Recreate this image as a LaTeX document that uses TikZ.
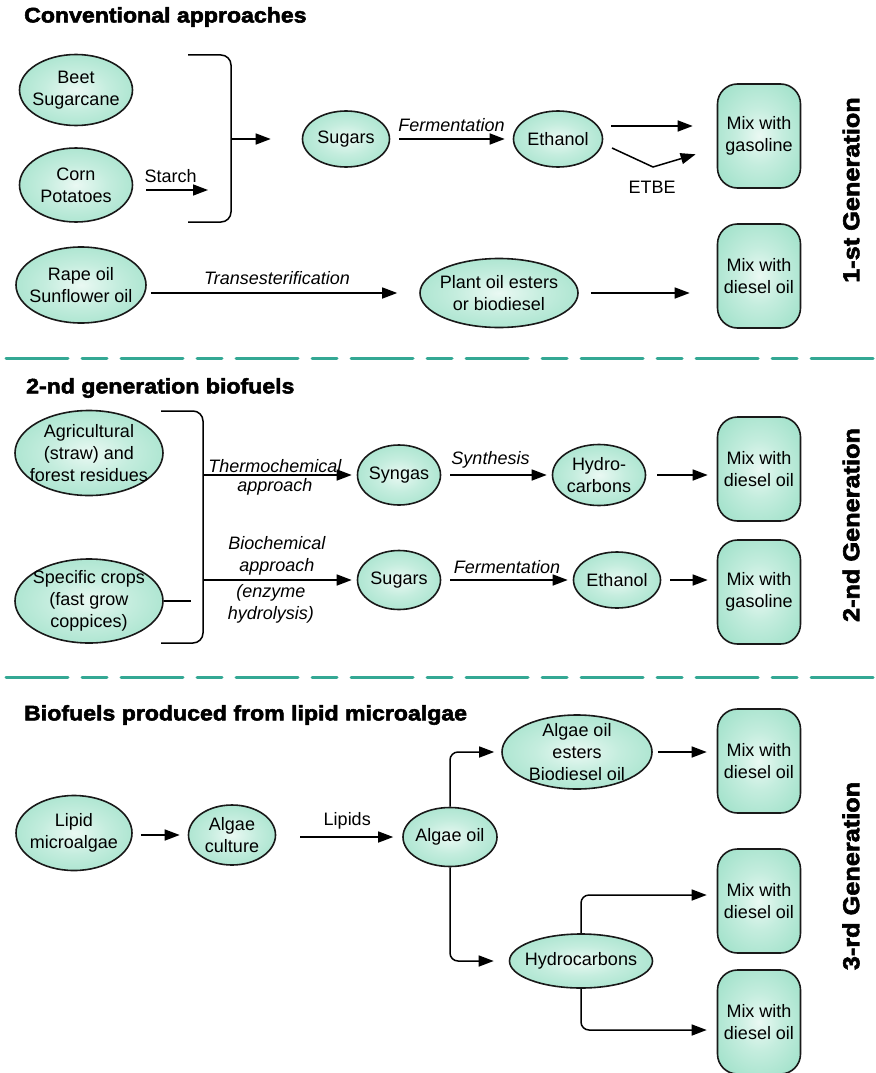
\documentclass[tikz,border=0pt]{standalone}
\usepackage{fontspec}
\setmainfont{Liberation Sans}
\newfontfamily\heavyfont[FakeBold=2.6, FakeStretch=1.1]{Liberation Sans Bold}
\usepackage{xcolor}
\usetikzlibrary{arrows.meta}
\usetikzlibrary{shapes.geometric}

\definecolor{mint}{RGB}{150,222,196}
\definecolor{mintlight}{RGB}{234,249,243}
\definecolor{edge}{RGB}{25,25,25}
\definecolor{rule}{RGB}{52,168,148}
\pgfdeclareradialshading{mintglow}{\pgfpoint{0bp}{0bp}}{color(0bp)=(mintlight); color(14bp)=(mintlight!55!mint); color(38bp)=(mint); color(50bp)=(mint); color(75bp)=(mint)}

\tikzset{
  txt/.style={font=\fontsize{18}{22}\selectfont, align=center, inner sep=0pt},
  oval/.style={ellipse, draw=edge, line width=1.6pt, shading=mintglow, inner sep=0pt, label={[txt]center:#1}},
  mixbox/.style={rectangle, rounded corners=20pt, draw=edge, line width=1.6pt, shading=mintglow, minimum width=83pt, minimum height=104pt, inner sep=0pt, label={[txt]center:#1}},
  flow/.style={-{Triangle[length=15pt,width=11pt]}, line width=1.5pt},
  via/.style={font=\fontsize{18}{22}\selectfont\itshape, align=center, inner sep=0pt},
  heading/.style={font=\fontsize{21}{25}\heavyfont, anchor=west, inner sep=0pt},
  gen/.style={font=\fontsize{23}{27}\heavyfont, rotate=90, inner sep=0pt},
  split/.style={draw=rule, line width=3pt, line cap=round, dash pattern=on 62pt off 14pt on 25pt off 14pt},
}

\begin{document}
\begin{tikzpicture}[x=1pt,y=-1pt]
\useasboundingbox (0,0) rectangle (875,1073);

% first generation
\node[heading] (head1) at (24,17) {Conventional approaches};
\node[oval={Beet\\Sugarcane}, minimum width=113pt, minimum height=71pt] (beet) at (76,90) {};
\node[oval={Corn\\Potatoes}, minimum width=113pt, minimum height=74pt] (corn) at (76,185) {};
\node[oval={Sugars}, minimum width=87pt, minimum height=56pt] (sugars1) at (346,139) {};
\node[oval={Ethanol}, minimum width=89pt, minimum height=56pt] (ethanol1) at (558,139) {};
\node[mixbox={Mix with\\gasoline}] (mix1) at (759,136) {};
\node[oval={Rape oil\\Sunflower oil}, minimum width=130pt, minimum height=76pt] (rape) at (81,285) {};
\node[oval={Plant oil esters\\or biodiesel}, minimum width=158pt, minimum height=69pt] (esters1) at (499,293) {};
\node[mixbox={Mix with\\diesel oil}] (mix2) at (759,276) {};
\node[gen] (gen1) at (851,190) {1-st Generation};

\coordinate (starch) at (208,190);
\draw[flow, shorten <=13pt] (corn.east |- starch) -- (starch) node[midway, txt, above=7pt] {Starch};
\draw[line width=1.5pt, rounded corners=10pt] (188,55) -- (231,55) -- (231,222) -- (188,222);
\draw[flow, shorten >=31pt] (231,139) -- (sugars1.west);
\draw[flow, shorten <=9pt, shorten >=8pt] (sugars1.east) -- (ethanol1.west) node[midway, via, above=7pt] {Fermentation};
\draw[flow, shorten <=8pt, shorten >=24pt] (ethanol1.east |- 0,126) -- (mix1.west |- 0,126);
\coordinate (etbe) at (653,167);
\draw[flow, shorten >=22pt] (612,148) -- (etbe) -- (mix1.west |- 0,148);
\node[txt] (etbelabel) at (652,187) {ETBE};
\draw[flow, shorten <=4pt, shorten >=22pt] (rape.east |- esters1) -- (esters1.west) node[midway, via, above=8pt, xshift=-6pt] {Transesterification};
\draw[flow, shorten <=12pt, shorten >=27pt] (esters1.east) -- (mix2.west |- esters1);

\draw[split] (6,358) -- (875,358);

% second generation
\node[heading] (head2) at (26,388) {2-nd generation biofuels};
\node[oval={Agricultural\\(straw) and\\forest residues}, minimum width=148pt, minimum height=85pt] (agri) at (89,453) {};
\node[oval={Specific crops\\(fast grow\\coppices)}, minimum width=148pt, minimum height=84pt] (crops) at (89,601) {};
\node[oval={Syngas}, minimum width=83pt, minimum height=60pt] (syngas) at (399,475) {};
\node[oval={Sugars}, minimum width=83pt, minimum height=59pt] (sugars2) at (399,580) {};
\node[oval={Hydro-\\carbons}, minimum width=93pt, minimum height=61pt] (hydro1) at (599,475) {};
\node[oval={Ethanol}, minimum width=87pt, minimum height=56pt] (ethanol2) at (617,580) {};
\node[mixbox={Mix with\\diesel oil}] (mix3) at (759,469) {};
\node[mixbox={Mix with\\gasoline}] (mix4) at (759,592) {};
\node[gen] (gen2) at (851,525) {2-nd Generation};

\draw[line width=1.5pt, rounded corners=10pt] (161,411) -- (203,411) -- (203,643) -- (161,643);
\draw[line width=1.2pt] (crops.east) -- (191,601);
\draw[flow, shorten >=5pt] (203,475) -- (syngas.west) node[midway, via, above=2pt, xshift=-5pt] {Thermochemical}
  node[midway, via, below=3pt, xshift=-5pt] {approach};
\draw[flow, shorten >=5pt] (203,580) -- (sugars2.west) node[midway, via, above=4pt, xshift=-3pt] {Biochemical\\approach}
  node[midway, via, below=4pt, xshift=-9pt] {(enzyme\\hydrolysis)};
\draw[flow, shorten <=9pt, shorten >=5pt] (syngas.east) -- (hydro1.west) node[midway, via, above=6pt, xshift=-6pt] {Synthesis};
\draw[flow, shorten <=9pt, shorten >=5pt] (sugars2.east) -- (ethanol2.west) node[midway, via, above=6pt] {Fermentation};
\draw[flow, shorten <=11pt, shorten >=9pt] (hydro1.east) -- (mix3.west |- hydro1);
\draw[flow, shorten <=9pt, shorten >=9pt] (ethanol2.east) -- (mix4.west |- ethanol2);

\draw[split] (6,677) -- (875,677);

% third generation
\node[heading] (head3) at (24,715) {Biofuels produced from lipid microalgae};
\node[oval={Lipid\\microalgae}, minimum width=116pt, minimum height=75pt] (lipid) at (74,833) {};
\node[oval={Algae\\culture}, minimum width=87pt, minimum height=60pt] (culture) at (232,835) {};
\node[oval={Algae oil}, minimum width=94pt, minimum height=59pt] (algaeoil) at (450,837) {};
\node[oval={Algae oil\\esters\\Biodiesel oil}, minimum width=150pt, minimum height=74pt] (esters3) at (577,752) {};
\node[oval={Hydrocarbons}, minimum width=143pt, minimum height=54pt] (hydro3) at (581,961) {};
\node[mixbox={Mix with\\diesel oil}] (mix5) at (759,761) {};
\node[mixbox={Mix with\\diesel oil}] (mix6) at (759,901) {};
\node[mixbox={Mix with\\diesel oil}] (mix7) at (759,1022) {};
\node[gen] (gen3) at (851,876) {3-rd Generation};

\draw[flow, shorten <=8pt, shorten >=8pt] (lipid.east |- culture) -- (culture.west);
\draw[flow, shorten <=24pt, shorten >=9pt] (culture.east |- algaeoil) -- (algaeoil.west) node[midway, txt, above=7pt, xshift=8pt] {Lipids};
\draw[flow, rounded corners=8pt, shorten >=7pt] (algaeoil.north) |- (esters3.west);
\draw[flow, rounded corners=8pt, shorten >=15pt] (algaeoil.south) |- (hydro3.west);
\draw[flow, shorten <=5pt, shorten >=10pt] (esters3.east) -- (mix5.west |- esters3);
\draw[flow, rounded corners=8pt, shorten >=10pt] (hydro3.north) |- (mix6.west |- 0,895);
\draw[flow, rounded corners=8pt, shorten >=10pt] (hydro3.south) |- (mix7.west |- 0,1030);
\end{tikzpicture}
\end{document}
